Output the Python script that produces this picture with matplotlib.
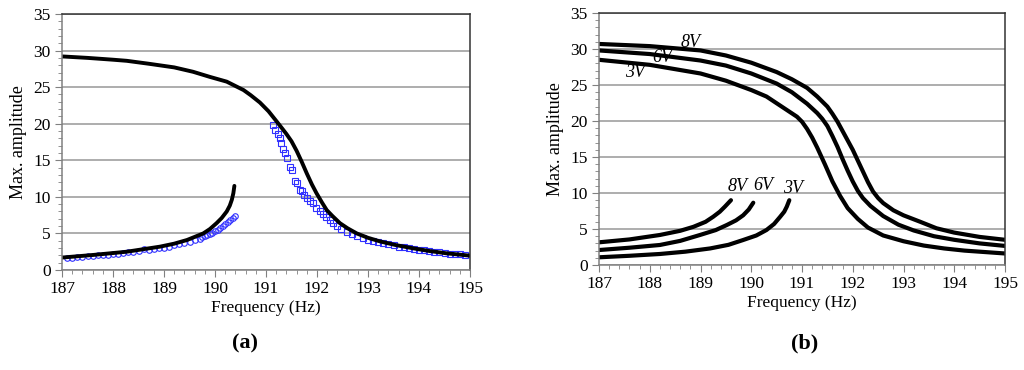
import numpy as np
import matplotlib
matplotlib.use('Agg')
import matplotlib.pyplot as plt
from matplotlib.ticker import MultipleLocator

plt.rcParams['font.family'] = ['Liberation Serif', 'DejaVu Serif']

# ================= (a) data =================
a_up_x = [187.0, 187.5, 188.0, 188.27, 188.7, 189.2, 189.57, 189.9, 190.23, 190.56,
          190.7, 190.88, 191.05, 191.21, 191.3, 191.4, 191.5, 191.6, 191.7, 191.8,
          191.9, 191.99, 192.1, 192.19, 192.3, 192.45, 192.6, 192.78, 193.0, 193.24,
          193.55, 193.89, 194.2, 194.54, 194.8, 195.0]
a_up_y = [29.2, 29.0, 28.75, 28.6, 28.2, 27.7, 27.1, 26.4, 25.75, 24.6,
          23.9, 22.9, 21.7, 20.3, 19.5, 18.6, 17.6, 16.3, 14.8, 13.2,
          11.7, 10.5, 9.2, 8.2, 7.4, 6.4, 5.7, 5.0, 4.4, 3.9,
          3.4, 2.96, 2.6, 2.28, 2.1, 1.96]
a_lo_x = [187.0, 187.6, 188.27, 188.92, 189.2, 189.45, 189.77, 189.9, 190.03, 190.13,
          190.23, 190.29, 190.33, 190.36, 190.38]
a_lo_y = [1.7, 2.05, 2.5, 3.19, 3.6, 4.1, 5.0, 5.6, 6.4, 7.1,
          8.0, 8.8, 9.6, 10.5, 11.5]
circ_x = [187.1, 187.2, 187.3, 187.4, 187.5, 187.6, 187.7, 187.8, 187.9, 188.0,
          188.1, 188.2, 188.3, 188.4, 188.5, 188.6, 188.7, 188.8, 188.9, 189.0,
          189.1, 189.2, 189.3, 189.4, 189.5, 189.6, 189.7, 189.75, 189.8, 189.85,
          189.9, 189.95, 190.0, 190.05, 190.1, 190.15, 190.2, 190.25, 190.3, 190.35, 190.4]
circ_y = [1.65, 1.7, 1.75, 1.8, 1.85, 1.95, 2.0, 2.05, 2.1, 2.2,
          2.25, 2.35, 2.4, 2.5, 2.6, 2.9, 2.7, 2.85, 2.95, 3.05,
          3.2, 3.35, 3.5, 3.7, 3.85, 4.05, 4.3, 4.45, 4.6, 4.75,
          4.9, 5.1, 5.3, 5.5, 5.75, 6.0, 6.25, 6.55, 6.85, 7.15, 7.45]
sq_x = [191.13, 191.18, 191.23, 191.27, 191.3, 191.34, 191.38, 191.42, 191.47, 191.5,
        191.56, 191.6, 191.66, 191.7, 191.75, 191.8, 191.86, 191.92, 191.99, 192.05,
        192.12, 192.18, 192.25, 192.32, 192.4, 192.48, 192.58, 192.68, 192.78, 192.9,
        193.0, 193.1, 193.2, 193.3, 193.4, 193.5, 193.6, 193.7, 193.8, 193.9,
        194.0, 194.1, 194.2, 194.3, 194.4, 194.5, 194.6, 194.7, 194.8, 194.9]
sq_y = [19.8, 19.2, 18.6, 18.0, 17.3, 16.6, 16.0, 15.3, 14.1, 13.7,
        12.1, 11.9, 11.0, 10.8, 10.3, 9.9, 9.5, 9.1, 8.5, 8.1,
        7.6, 7.2, 6.8, 6.4, 6.0, 5.6, 5.25, 4.95, 4.7, 4.35,
        4.15, 3.95, 3.8, 3.65, 3.5, 3.35, 3.2, 3.1, 3.0, 2.9,
        2.8, 2.7, 2.6, 2.5, 2.4, 2.35, 2.25, 2.2, 2.15, 2.1]

# ================= (b) data =================
b8_x = [187.0, 188.0, 189.0, 189.5, 190.0, 190.5, 190.8, 191.1, 191.3, 191.5,
        191.6, 191.7, 191.8, 191.9, 192.0, 192.1, 192.2, 192.3, 192.4, 192.5,
        192.6, 192.8, 193.0, 193.33, 193.65, 194.0, 194.5, 195.0]
b8_y = [30.7, 30.4, 29.8, 29.1, 28.1, 26.8, 25.8, 24.6, 23.4, 22.0,
        21.0, 19.9, 18.6, 17.3, 16.0, 14.5, 13.0, 11.5, 10.2, 9.3,
        8.6, 7.6, 6.9, 6.0, 5.1, 4.5, 3.9, 3.5]
b6_x = [187.0, 188.0, 189.0, 189.5, 190.0, 190.5, 190.8, 191.1, 191.3, 191.4,
        191.5, 191.6, 191.7, 191.8, 191.9, 192.0, 192.1, 192.2, 192.35, 192.6,
        192.9, 193.2, 193.6, 194.0, 194.5, 195.0]
b6_y = [29.8, 29.3, 28.4, 27.7, 26.6, 25.2, 24.0, 22.4, 21.1, 20.3,
        19.3, 17.9, 16.4, 14.7, 13.1, 11.6, 10.3, 9.3, 8.2, 6.8,
        5.6, 4.8, 4.0, 3.5, 3.0, 2.65]
b3_x = [187.0, 188.0, 189.0, 189.5, 190.0, 190.3, 190.6, 190.9, 191.0, 191.1,
        191.2, 191.3, 191.45, 191.6, 191.75, 191.9, 192.1, 192.3, 192.6, 193.0,
        193.4, 193.8, 194.2, 194.6, 195.0]
b3_y = [28.5, 27.8, 26.6, 25.6, 24.3, 23.4, 22.0, 20.6, 19.9, 18.9,
        17.7, 16.3, 14.0, 11.6, 9.6, 7.9, 6.4, 5.2, 4.1, 3.3,
        2.7, 2.3, 2.0, 1.8, 1.6]
lo8_x = [187.0, 187.6, 188.2, 188.6, 188.86, 189.1, 189.25, 189.38, 189.48, 189.6]
lo8_y = [3.15, 3.55, 4.17, 4.75, 5.3, 6.0, 6.7, 7.4, 8.1, 9.0]
lo6_x = [187.0, 187.6, 188.2, 188.6, 188.99, 189.3, 189.52, 189.7, 189.84, 189.95, 190.04]
lo6_y = [2.08, 2.4, 2.78, 3.35, 4.17, 4.85, 5.56, 6.2, 6.9, 7.7, 8.65]
lo3_x = [187.0, 187.6, 188.2, 188.7, 189.19, 189.55, 189.84, 190.1, 190.3, 190.45,
         190.57, 190.65, 190.7, 190.75]
lo3_y = [1.07, 1.28, 1.53, 1.85, 2.3, 2.8, 3.47, 4.1, 4.86, 5.7,
         6.7, 7.4, 8.1, 9.0]

labels_up = [('8V', 188.8, 30.9), ('6V', 188.24, 28.8), ('3V', 187.71, 26.8)]
labels_lo = [('8V', 189.74, 10.9), ('6V', 190.24, 11.0), ('3V', 190.83, 10.65)]

fig = plt.figure(figsize=(10.24, 3.7), dpi=100)
ax1 = fig.add_axes([62/1024, 1 - 270/370, 408/1024, 256/370])
ax2 = fig.add_axes([599/1024, 1 - 265/370, 406/1024, 252/370])


def style(ax):
    ax.set_xlim(187, 195)
    ax.set_ylim(0, 35)
    ax.xaxis.set_major_locator(MultipleLocator(1))
    ax.xaxis.set_minor_locator(MultipleLocator(0.2))
    ax.yaxis.set_major_locator(MultipleLocator(5))
    ax.yaxis.set_minor_locator(MultipleLocator(1))
    ax.grid(axis='y', which='major', color='#a0a0a0', linewidth=1.2)
    ax.set_axisbelow(True)
    for side in ('left', 'bottom'):
        ax.spines[side].set_color('#808080')
    for side in ('top', 'right'):
        ax.spines[side].set_color('#333333')
    for s in ax.spines.values():
        s.set_linewidth(1.1)
    ax.tick_params(which='major', direction='out', length=5, color='#808080',
                   labelsize=12.5, pad=3)
    ax.tick_params(which='minor', direction='out', length=3, color='#808080')
    ax.set_xlabel('Frequency (Hz)', fontsize=12.5, labelpad=2)
    ax.set_ylabel('Max. amplitude', fontsize=13, labelpad=5)


style(ax1)
style(ax2)

# (a)
ax1.plot(circ_x, circ_y, 'o', ms=4, mfc='none', mec='#3030ff', mew=0.8)
ax1.plot(sq_x, sq_y, 's', ms=4.5, mfc='none', mec='#3030ff', mew=0.8)
ax1.plot(a_up_x, a_up_y, color='black', lw=2.8)
ax1.plot(a_lo_x, a_lo_y, color='black', lw=2.8, solid_capstyle='round')

# (b)
ax2.plot(b8_x, b8_y, color='black', lw=3)
ax2.plot(b6_x, b6_y, color='black', lw=3)
ax2.plot(b3_x, b3_y, color='black', lw=3)
ax2.plot(lo8_x, lo8_y, color='black', lw=3, solid_capstyle='round')
ax2.plot(lo6_x, lo6_y, color='black', lw=3, solid_capstyle='round')
ax2.plot(lo3_x, lo3_y, color='black', lw=3, solid_capstyle='round')
for t, x, y in labels_up + labels_lo:
    ax2.text(x, y, t, style='italic', fontsize=13, ha='center', va='center')

fig.text(245/1024, 1 - 343/370, '(a)', fontsize=16, fontweight='bold', ha='center', va='center')
fig.text(805/1024, 1 - 343/370, '(b)', fontsize=16, fontweight='bold', ha='center', va='center')

fig.savefig('out.png', dpi=100)
